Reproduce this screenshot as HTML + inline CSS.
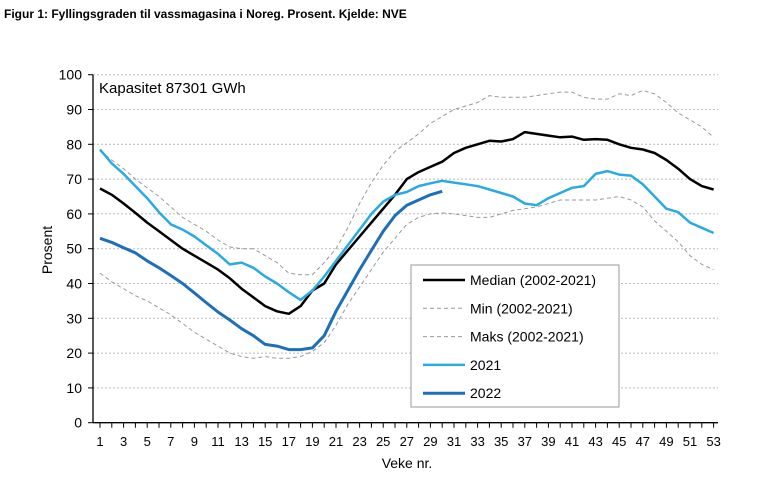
<!DOCTYPE html>
<html><head><meta charset="utf-8"><style>
body{margin:0;background:#fff;width:760px;height:496px;overflow:hidden;font-family:"Liberation Sans",sans-serif}
</style></head><body>
<svg width="760" height="496" xmlns="http://www.w3.org/2000/svg" font-family="Liberation Sans, sans-serif">
<text x="4" y="18" font-size="12" font-weight="bold">Figur 1: Fyllingsgraden til vassmagasina i Noreg. Prosent. Kjelde: NVE</text>
<g id="grid"></g><g id="axes"></g><g id="series"></g>
<text x="99" y="93" font-size="15">Kapasitet 87301 GWh</text>
<text x="407" y="468" font-size="14" text-anchor="middle">Veke nr.</text>
<text transform="translate(52,250) rotate(-90)" font-size="14" text-anchor="middle">Prosent</text>
<g id="legend"></g>
</svg>
<script>
const weeks=[];for(let i=1;i<=53;i++)weeks.push(i);
const yTicks=[0,10,20,30,40,50,60,70,80,90,100];
const median=[67.3,65.5,63,60.3,57.5,55,52.5,50,48,46,44,41.5,38.5,36,33.5,32,31.3,33.5,38,40,45.5,49.5,53.5,57.5,61.5,65.5,70,72,73.5,75,77.5,79,80,81,80.8,81.5,83.5,83,82.5,82,82.2,81.3,81.5,81.3,80,79,78.5,77.5,75.5,73,70,68,67];
const minS=[43,40.5,38.5,36.5,35,33,31,28.5,26,24,22,20,19,18.5,19,18.5,18.5,19,20.5,23,28,34,39,44,49,53,57,59,60,60.3,60,59.5,59,59,60,61,61.5,62,63,64,64,64,64,64.5,65,64,62,58,55,52,48,45.5,44];
const maxS=[78,75.5,73,70,67.5,65,62,59,57,55,52.5,50.5,50,50,48,46,43,42.5,42.5,46,50,56,63,69,74,78,80.5,83,86,88,90,91,92,94,93.5,93.5,93.5,94,94.5,95,95,93.5,93,93,94.5,94,95.5,94.5,92,89,87,85,82];
const y2021=[78.5,74.5,71.5,68,64.5,60.5,57,55.5,53.5,51,48.5,45.5,46,44.5,42,40,37.5,35.3,38,42,46.5,51,55.5,60,63.5,65.5,66.3,68,68.8,69.5,69,68.5,68,67,66,65,63,62.5,64.5,66,67.5,68,71.5,72.3,71.3,71,68.5,65,61.5,60.5,57.5,56,54.5];
const y2022=[53,51.8,50.3,48.8,46.5,44.5,42.3,40,37.3,34.5,31.8,29.5,27,25,22.5,22,21,21,21.5,25,32,38,44,49.5,55,59.5,62.5,64,65.5,66.5];
const X=w=>100+(w-1)*11.8;
const Y=v=>422.7-v*3.48;
const NS="http://www.w3.org/2000/svg";
function mk(t,a,p){const e=document.createElementNS(NS,t);for(const k in a)e.setAttribute(k,a[k]);p.appendChild(e);return e;}
const grid=document.getElementById('grid'),axes=document.getElementById('axes'),ser=document.getElementById('series'),leg=document.getElementById('legend');
yTicks.forEach(v=>{
 if(v>0){const g=mk('line',{x1:93,x2:718,y1:Y(v),y2:Y(v),stroke:'#bbb','stroke-dasharray':'2,2','stroke-width':1},grid);
 
 }
 mk('line',{x1:88,x2:93,y1:Y(v),y2:Y(v),stroke:'#000'},axes);
 const t=mk('text',{x:82,y:Y(v)+5,'font-size':14,'text-anchor':'end'},axes);t.textContent=v;
 
 
});
mk('line',{x1:93,x2:93,y1:Y(100),y2:Y(0),stroke:'#000','stroke-width':1.3},axes);
mk('line',{x1:93,x2:718,y1:Y(0),y2:Y(0),stroke:'#000','stroke-width':1.3},axes);
weeks.forEach(w=>{
 mk('line',{x1:X(w),x2:X(w),y1:Y(0),y2:Y(0)+5,stroke:'#000'},axes);
 if(w%2===1){const t=mk('text',{x:X(w),y:446,'font-size':13,'text-anchor':'middle'},axes);t.textContent=w;
 
 }
});
function line(arr,st,name){
 const d=arr.map((v,i)=>(i?'L':'M')+X(weeks[i]).toFixed(1)+','+Y(v).toFixed(1)).join(' ');
 const p=mk('path',Object.assign({d:d,fill:'none','stroke-linejoin':'round'},st),ser);
 
 
}
const stMed={stroke:'#000','stroke-width':2.5},stMin={stroke:'#999','stroke-width':1,'stroke-dasharray':'4,3'},
 st21={stroke:'#29aae2','stroke-width':2.5},st22={stroke:'#1d6fba','stroke-width':3};
line(minS,stMin,'min-line');line(maxS,stMin,'max-line');line(median,stMed,'median-line');line(y2021,st21,'line-2021');line(y2022,st22,'line-2022');
mk('rect',{x:411,y:265,width:208,height:142,fill:'#fff',stroke:'#999'},leg);
[['Median (2002-2021)',stMed],['Min (2002-2021)',stMin],['Maks (2002-2021)',stMin],['2021',st21],['2022',st22]].forEach((e,i)=>{
 const y=280+i*28.3;
 mk('line',Object.assign({x1:423,x2:465,y1:y,y2:y},e[1]),leg);
 const t=mk('text',{x:470,y:y+5,'font-size':14},leg);t.textContent=e[0];
 
 
});
</script>
</body></html>
